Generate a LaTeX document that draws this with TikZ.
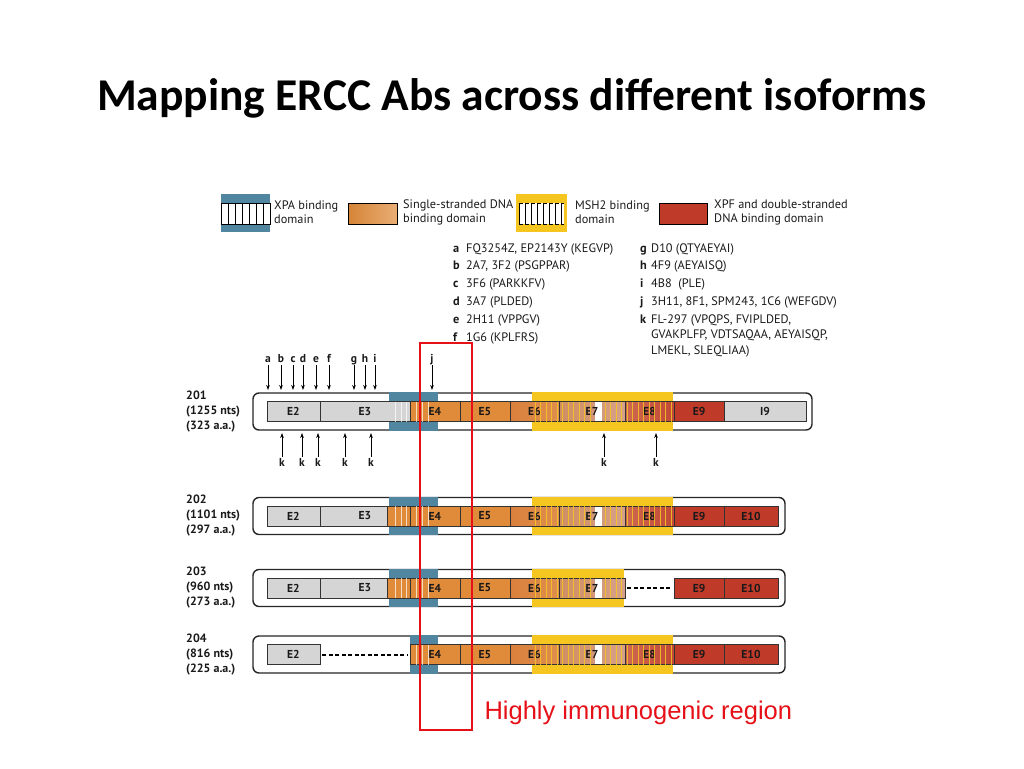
\documentclass[tikz,border=0pt]{standalone}
\usepackage{fontspec}
\setmainfont{PT Sans}
\newfontfamily\titlefont{Carlito}
\newfontfamily\notefont{Liberation Sans}
\usetikzlibrary{arrows.meta}

\definecolor{xpablue}{RGB}{80,134,160}
\definecolor{msh2yellow}{RGB}{246,198,32}
\definecolor{ssorange}{RGB}{224,139,58}
\definecolor{xpfred}{RGB}{192,58,42}
\definecolor{exongrey}{RGB}{213,213,213}
\definecolor{e6l}{RGB}{218,128,60}
\definecolor{e6r}{RGB}{222,142,78}
\definecolor{e7l}{RGB}{208,142,98}
\definecolor{e7r}{RGB}{214,160,138}
\definecolor{e8l}{RGB}{206,104,82}
\definecolor{e8r}{RGB}{194,72,54}
\definecolor{immred}{RGB}{230,16,24}

\begin{document}
\begin{tikzpicture}[x=1pt,y=-1pt,
  every node/.style={font=\fontsize{12.3}{14}\selectfont,text=black!90},
  rowbox/.style={draw=black!85,line width=1.4pt,rounded corners=6pt,fill=white},
  exon/.style={draw=black!80,line width=0.5pt,minimum height=20pt,inner sep=0pt,font=\bfseries\fontsize{11.5}{13}\selectfont},
  greyex/.style={fill=exongrey},
  orangeex/.style={fill=ssorange},
  sixex/.style={left color=e6l,right color=e6r},
  sevenex/.style={left color=e7l,right color=e7r,path picture={\fill[white] ([xshift=36pt]path picture bounding box.south west) rectangle ([xshift=43pt]path picture bounding box.north west);}},
  eightex/.style={left color=e8l,right color=e8r},
  redex/.style={fill=xpfred},
  xpastripe/.style={draw=white,line width=0.6pt,opacity=0.7},
  msh2stripe/.style={draw=msh2yellow,line width=0.4pt,opacity=0.85},
  gap/.style={line width=2pt,dash pattern=on 4pt off 2.5pt,shorten <=2pt,shorten >=2pt},
  ab/.style={-{Stealth[length=5pt,width=3.6pt]},line width=0.7pt},
  tag/.style={font=\bfseries\fontsize{11.5}{13}\selectfont,inner sep=1pt,text height=8pt,text depth=2pt},
  isoform/.style={anchor=west,align=left,inner sep=0pt,font=\bfseries\fontsize{12}{15}\selectfont},
  legend/.style={anchor=west,align=left,inner sep=0pt},
  abname/.style={anchor=base west,inner sep=0pt}]
\useasboundingbox (0,0) rectangle (1024,768);

\node[font=\titlefont\bfseries\fontsize{45.5}{52}\selectfont,text=black] (title) at (512,98) {Mapping ERCC Abs across different isoforms};

\fill[xpablue] (221,194) rectangle (270,232);
\draw[fill=white,line width=0.5pt] (221,203) rectangle (270,224);
\foreach \s in {228,235,...,263} \draw[line width=0.5pt] (\s,203) -- (\s,224);
\node[legend] (xpakey) at (274,212) {XPA binding\\domain};
\draw[line width=0.6pt,left color=ssorange!95!black,right color=ssorange!70!white] (348,203) rectangle (397,224);
\node[legend] (sskey) at (403,212) {Single-stranded DNA\\binding domain};
\fill[msh2yellow] (516,194) rectangle (567,232);
\fill[white] (519,203) rectangle (564,224);
\foreach \s in {519,525,...,564} \draw[line width=0.5pt] (\s,203) -- (\s,224);
\draw[line width=0.5pt,dash pattern=on 4pt off 2pt] (519,203) -- (564,203) (519,224) -- (564,224);
\node[legend] (msh2key) at (575,212) {MSH2 binding\\domain};
\draw[line width=0.6pt,fill=xpfred] (659,203) rectangle (707,224);
\node[legend] (xpfkey) at (714,212) {XPF and double-stranded\\DNA binding domain};

\foreach \ltr/\abtext [count=\i] in {a/{FQ3254Z, EP2143Y (KEGVP)},b/{2A7, 3F2 (PSGPPAR)},c/{3F6 (PARKKFV)},d/{3A7 (PLDED)},e/{2H11 (VPPGV)},f/{1G6 (KPLFRS)}}
  \node[abname] (ab\ltr) at (453,{252+17.8*(\i-1)}) {\makebox[13pt][l]{\textbf{\ltr}}\abtext};
\foreach \ltr/\abtext [count=\i] in {g/{D10 (QTYAEYAI)},h/{4F9 (AEYAISQ)},i/{4B8\ \ (PLE)},j/{3H11, 8F1, SPM243, 1C6 (WEFGDV)}}
  \node[abname] (ab\ltr) at (640,{252+17.8*(\i-1)}) {\makebox[11pt][l]{\textbf{\ltr}}\abtext};
\node[abname,align=left,font=\fontsize{12.3}{15.5}\selectfont] (abk) at (640,354.2) {\makebox[11pt][l]{\textbf{k}}FL-297 (VPQPS, FVIPLDED,\\\hspace*{11pt}GVAKPLFP, VDTSAQAA, AEYAISQP,\\\hspace*{11pt}LMEKL, SLEQLIAA)};

\foreach \row/\cy/\nts/\aa/\rend in {201/411.5/1255/323/812,202/516/1101/297/785,203/588/960/273/785,204/654.5/816/225/785}{
  \draw[rowbox] (253,\cy-18.5) rectangle (\rend,\cy+18.5);
  \node[isoform] (iso\row) at (186,\cy) {\row\\(\nts{} nts)\\(\aa{} a.a.)};
}
\foreach \cy/\xa in {411.5/389,516/389,588/389,654.5/410} \fill[xpablue] (\xa,\cy-19.2) rectangle (438,\cy+19.2);
\foreach \cy/\xb in {411.5/673,516/673,588/624,654.5/673} \fill[msh2yellow] (532,\cy-19.2) rectangle (\xb,\cy+19.2);

\foreach \n/\xa/\xb/\sty/\lab in {2/267/320/greyex/E2,3/320/410/greyex/E3,4/410/460/orangeex/E4,5/460/510/orangeex/E5,6/510/559/sixex/E6,7/559/625/sevenex/E7,8/625/674/eightex/E8,9/674/724/redex/E9,10/724/806/greyex/I9}
  \node[exon,\sty,minimum width=\xb-\xa] (x201e\n) at ({(\xa+\xb)/2},411.5) {\lab};
\foreach \n/\xa/\xb/\sty/\lab in {2/267/320/greyex/E2,3/320/410/greyex/E3,4/410/460/orangeex/E4,5/460/510/orangeex/E5,6/510/559/sixex/E6,7/559/625/sevenex/E7,8/625/674/eightex/E8,9/674/724/redex/E9,10/724/778/redex/E10}
  \node[exon,\sty,minimum width=\xb-\xa] (x202e\n) at ({(\xa+\xb)/2},516) {\lab};
\foreach \n/\xa/\xb/\sty/\lab in {2/267/320/greyex/E2,3/320/410/greyex/E3,4/410/460/orangeex/E4,5/460/510/orangeex/E5,6/510/559/sixex/E6,7/559/625/sevenex/E7,9/674/724/redex/E9,10/724/778/redex/E10}
  \node[exon,\sty,minimum width=\xb-\xa] (x203e\n) at ({(\xa+\xb)/2},588) {\lab};
\foreach \n/\xa/\xb/\sty/\lab in {2/267/320/greyex/E2,4/410/460/orangeex/E4,5/460/510/orangeex/E5,6/510/559/sixex/E6,7/559/625/sevenex/E7,8/625/674/eightex/E8,9/674/724/redex/E9,10/724/778/redex/E10}
  \node[exon,\sty,minimum width=\xb-\xa] (x204e\n) at ({(\xa+\xb)/2},654.5) {\lab};
\foreach \cy in {516,588} \filldraw[fill=ssorange,draw=black!80,line width=0.5pt] (387,\cy-10) rectangle (410,\cy+10);

\draw[gap] (x203e7.east) -- (x203e9.west);
\draw[gap] (x204e2.east) -- (x204e4.west);

\foreach \cy in {411.5,516,588}
  \foreach \s in {395,401,406,416,422,428} \draw[xpastripe] (\s,\cy-10) -- (\s,\cy+10);
\foreach \s in {416,422,428} \draw[xpastripe] (\s,644.5) -- (\s,664.5);
\foreach \cy in {411.5,516,654.5}
  \foreach \s in {535,540.5,...,591,605,610.5,...,671} \draw[msh2stripe] (\s,\cy-10) -- (\s,\cy+10);
\foreach \s in {535,540.5,...,591,605,610.5,...,622} \draw[msh2stripe] (\s,578) -- (\s,598);

\foreach \ltr/\x in {a/268,b/281,c/293,d/303,e/316,f/329,g/354,h/365,i/375,j/432}{
  \node[tag] (top\ltr) at (\x,359) {\ltr};
  \coordinate (hit\ltr) at (\x,390);
  \draw[ab] (top\ltr) -- (hit\ltr);
}
\foreach \x [count=\i] in {282,302,318,345,371,604,656}{
  \node[tag] (bot\i) at (\x,463) {k};
  \coordinate (hitk\i) at (\x,433);
  \draw[ab] (bot\i) -- (hitk\i);
}

\draw[immred,line width=1.5pt] (420,343) rectangle (472,730);
\node[anchor=west,text=immred,font=\notefont\fontsize{25.5}{30}\selectfont] (immnote) at (481,713) {Highly immunogenic region};
\end{tikzpicture}
\end{document}
